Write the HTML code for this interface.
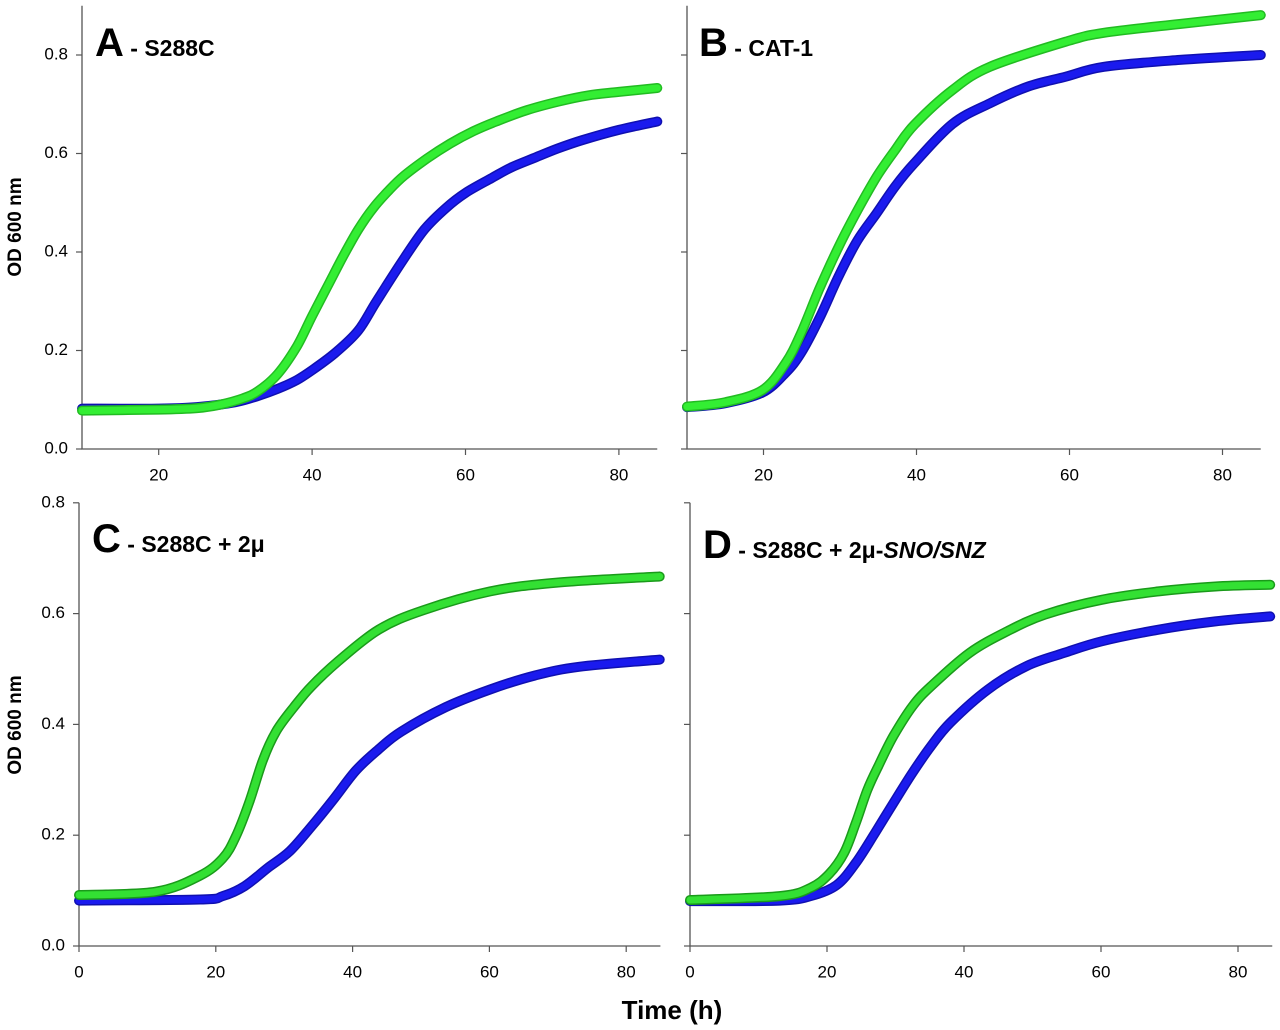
<!DOCTYPE html>
<html><head><meta charset="utf-8"><style>
html,body{margin:0;padding:0;background:#fff;}
svg{display:block;font-family:"Liberation Sans",sans-serif;}
.tick{font-size:17px;fill:#000;}
.ttl{font-weight:bold;fill:#000;}
</style></head><body>
<svg id="fig" width="1280" height="1030" viewBox="0 0 1280 1030">
<text x="16" y="227" transform="rotate(-90 16 227)" text-anchor="middle" dominant-baseline="middle" font-size="19" font-weight="bold">OD 600 nm</text>
<text x="16" y="725" transform="rotate(-90 16 725)" text-anchor="middle" dominant-baseline="middle" font-size="19" font-weight="bold">OD 600 nm</text>
<text x="672" y="1012" text-anchor="middle" dominant-baseline="middle" font-size="26" font-weight="bold">Time (h)</text>
</svg>
<script>
// Panel A - S288C
const aTimeGreen=[10,20,25,28,31,33,35.5,38,40,42,44,46,48,50,52,55,58,61,64,68,72,76,80,85];
const aGreen=[.078,.08,.083,.09,.103,.118,.152,.208,.27,.33,.39,.445,.49,.525,.555,.59,.62,.645,.665,.688,.705,.718,.725,.733];
const aTimeBlue=[10,20,25,30,33,35.5,38,40,43,46,48.4,51.7,54.6,57.5,60,63.4,66,69.3,72,75.2,80,85];
const aBlue=[.082,.082,.085,.095,.108,.122,.14,.16,.195,.24,.3,.38,.445,.49,.52,.55,.572,.593,.61,.627,.648,.665];
// Panel B - CAT-1
const bTimeGreen=[10,15,19.9,22.9,24.9,27.3,29.8,32.3,34.8,37.2,39.7,44.7,49.6,59.5,64.5,74.4,85];
const bGreen=[.086,.095,.12,.175,.235,.325,.41,.485,.553,.607,.658,.729,.776,.827,.845,.863,.881];
const bTimeBlue=[10,15,19.9,22.9,24.9,27.3,29.8,32.3,34.8,37.2,39.7,44.7,49.6,54.6,59.5,64.5,74.4,85];
const bBlue=[.085,.093,.115,.155,.195,.265,.35,.424,.479,.533,.58,.66,.702,.736,.756,.776,.79,.80];
// Panel C - S288C + 2mu
const cTimeGreen=[0,11.2,17.7,21,22.9,24.9,26.9,28.8,31.4,34,37.9,43.8,50.3,60.1,69.9,84.9];
const cGreen=[.092,.098,.127,.158,.197,.26,.336,.387,.431,.469,.514,.571,.606,.64,.656,.667];
const cTimeBlue=[0,17.7,21,24.2,27.5,30.8,34,37.3,40.5,43.8,47.1,53.6,60.1,66.6,73.1,84.9];
const cBlue=[.082,.084,.09,.108,.14,.171,.216,.266,.317,.355,.387,.431,.463,.488,.504,.517];
// Panel D - S288C + 2mu-SNO/SNZ
const dTimeGreen=[0,13.1,17.6,20.3,22.5,24.2,25.9,27.5,29.7,32.5,35.2,40.8,46.3,51.8,60.1,68.4,76.7,84.7];
const dGreen=[.083,.09,.105,.13,.168,.222,.282,.325,.379,.433,.469,.529,.568,.598,.625,.64,.649,.652];
const dTimeBlue=[0,13.1,17.6,21.4,24.2,27,29.7,32.5,35.2,38,43.5,49.1,54.6,60.1,68.4,76.7,84.7];
const dBlue=[.081,.082,.09,.11,.15,.204,.258,.313,.361,.403,.463,.505,.529,.55,.571,.586,.595];
const yTicks=[0,0.2,0.4,0.6,0.8];
const yTickLabels=["0.0","0.2","0.4","0.6","0.8"];
const xTicksTop=[20,40,60,80];
const xTicksBottom=[0,20,40,60,80];

const NS="http://www.w3.org/2000/svg";
const svg=document.getElementById('fig');
function el(tag,attrs,parent){const e=document.createElementNS(NS,tag);for(const k in attrs)e.setAttribute(k,attrs[k]);(parent||svg).appendChild(e);return e;}
function smooth(P){
  let d=`M${P[0][0].toFixed(1)},${P[0][1].toFixed(1)}`;
  for(let i=0;i<P.length-1;i++){
    const p0=P[Math.max(0,i-1)],p1=P[i],p2=P[i+1],p3=P[Math.min(P.length-1,i+2)];
    const c1x=p1[0]+(p2[0]-p0[0])/6,c1y=p1[1]+(p2[1]-p0[1])/6;
    const c2x=p2[0]-(p3[0]-p1[0])/6,c2y=p2[1]-(p3[1]-p1[1])/6;
    d+=`C${c1x.toFixed(1)},${c1y.toFixed(1)} ${c2x.toFixed(1)},${c2y.toFixed(1)} ${p2[0].toFixed(1)},${p2[1].toFixed(1)}`;
  }
  return d;
}

const panels=[
 {id:'a',x0:82,xmin:10,xmax:85,sx:7.67,y0:449,sy:492.5,ymax:0.9,lab:true,xt:xTicksTop,tg:aTimeGreen,g:aGreen,tb:aTimeBlue,b:aBlue,tx:95,ty:56,big:'A',rest:' - S288C',gc:['#33ee33','#22bb22']},
 {id:'b',x0:687,xmin:10,xmax:85,sx:7.65,y0:449,sy:492.5,ymax:0.9,lab:false,xt:xTicksTop,tg:bTimeGreen,g:bGreen,tb:bTimeBlue,b:bBlue,tx:699,ty:56,big:'B',rest:' - CAT-1',gc:['#33ee33','#22bb22']},
 {id:'c',x0:79,xmin:0,xmax:85,sx:6.84,y0:946,sy:554,ymax:0.8,lab:true,xt:xTicksBottom,tg:cTimeGreen,g:cGreen,tb:cTimeBlue,b:cBlue,tx:92,ty:552,big:'C',rest:' - S288C + 2μ',gc:['#33e033','#1a9a1a']},
 {id:'d',x0:690,xmin:0,xmax:85,sx:6.85,y0:946,sy:554,ymax:0.8,lab:false,xt:xTicksBottom,tg:dTimeGreen,g:dGreen,tb:dTimeBlue,b:dBlue,tx:703,ty:558,big:'D',rest:null,gc:['#33e033','#1a9a1a']}
];

panels.forEach(p=>{
  const X=t=>p.x0+(t-p.xmin)*p.sx;
  const Y=v=>p.y0-v*p.sy;
  const g=el('g',{});
  
  
  const ax=el('path',{d:`M${X(p.xmin)},${Y(p.ymax)}V${p.y0}H${X(p.xmax)}`,fill:'none',stroke:'#555','stroke-width':1.3},g);
  
  
  yTicks.forEach((v,i)=>{
    el('line',{x1:X(p.xmin)-6,x2:X(p.xmin),y1:Y(v),y2:Y(v),stroke:'#555','stroke-width':1.2},g);
    if(p.lab){const t=el('text',{x:X(p.xmin)-14,y:Y(v),'text-anchor':'end','dominant-baseline':'middle',class:'tick'},g);t.textContent=yTickLabels[i];
      
      }
  });
  p.xt.forEach(v=>{
    el('line',{x1:X(v),x2:X(v),y1:p.y0,y2:p.y0+6,stroke:'#555','stroke-width':1.2},g);
    const t=el('text',{x:X(v),y:p.y0+27,'text-anchor':'middle','dominant-baseline':'middle',class:'tick'},g);t.textContent=v;
    
    
  });
  [[p.tb,p.b,'#1a1aee','#1010b0','blue'],[p.tg,p.g,p.gc[0],p.gc[1],'green']].forEach(([ts,vs,fill,st,nm])=>{
    const P=ts.map((t,i)=>[X(t),Y(vs[i])]);
    const d=smooth(P);
    const pl=el('path',{d:d,fill:'none',stroke:st,'stroke-width':10,'stroke-linejoin':'round','stroke-linecap':'round'},g);
    
    
    el('path',{d:d,fill:'none',stroke:fill,'stroke-width':7,'stroke-linejoin':'round','stroke-linecap':'round'},g);
  });
  const tt=el('text',{x:p.tx,y:p.ty,class:'ttl'},g);
  
  
  const s1=el('tspan',{'font-size':40},tt);s1.textContent=p.big;
  if(p.rest){const s2=el('tspan',{'font-size':23},tt);s2.textContent=p.rest;}
  else{
    const s2=el('tspan',{'font-size':23},tt);s2.textContent=' - S288C + 2μ-';
    const s3=el('tspan',{'font-size':23,'font-style':'italic'},tt);s3.textContent='SNO/SNZ';
  }
});
</script>
</body></html>
